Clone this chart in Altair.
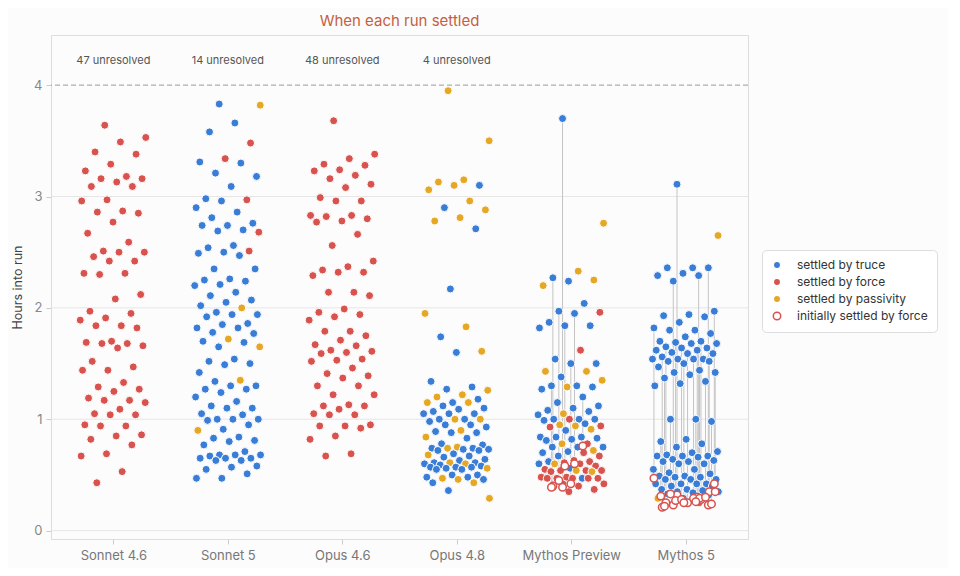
import json
import altair as alt
import pandas as pd

# ---------------- data ----------------
models = ["Sonnet 4.6", "Sonnet 5", "Opus 4.6", "Opus 4.8", "Mythos Preview", "Mythos 5"]
unresolved_models = ["Sonnet 4.6", "Sonnet 5", "Opus 4.6", "Opus 4.8"]
unresolved_counts = [47, 14, 48, 4]

kinds = ["settled by truce", "settled by force", "settled by passivity", "initially settled by force"]

sonnet46_force = [3.64, 3.53, 3.49, 3.40, 3.38, 3.29, 3.23, 3.16, 3.18, 3.16, 3.13, 3.09, 3.09, 2.97, 2.96,
                  2.85, 2.87, 2.86, 2.77, 2.67, 2.59, 2.51, 2.50, 2.50, 2.46, 2.42, 2.42, 2.31, 2.31, 2.30,
                  2.12, 2.08, 1.95, 1.97, 1.91, 1.89, 1.84, 1.82, 1.84, 1.68, 1.64, 1.70, 1.66, 1.68, 1.69,
                  1.52, 1.47, 1.44, 1.44, 1.33, 1.29, 1.27, 1.25, 1.17, 1.19, 1.17, 1.15, 1.09, 1.04, 1.05,
                  1.04, 0.94, 0.94, 0.95, 0.86, 0.85, 0.82, 0.77, 0.69, 0.67, 0.53, 0.43]

sonnet5_truce = [3.83, 3.66, 3.58, 3.31, 3.30, 3.18, 3.21, 3.09, 2.98, 2.96, 2.90, 2.86, 2.81, 2.76, 2.74,
                 2.70, 2.74, 2.69, 2.56, 2.54, 2.49, 2.50, 2.47, 2.35, 2.35, 2.25, 2.26, 2.24, 2.21, 2.20,
                 2.14, 2.11, 2.07, 2.05, 2.02, 1.96, 1.94, 1.94, 1.92, 1.86, 1.85, 1.82, 1.82, 1.78, 1.77,
                 1.70, 1.69, 1.65, 1.54, 1.52, 1.50, 1.49, 1.42, 1.24, 1.34, 1.30, 1.27, 1.30, 1.27, 1.20,
                 1.16, 1.12, 1.10, 1.10, 1.04, 1.05, 1.00, 1.00, 0.99, 1.00, 0.95, 0.91, 0.84, 0.83, 0.80,
                 0.81, 0.77, 0.68, 0.67, 0.68, 0.65, 0.71, 0.68, 0.65, 0.65, 0.63, 0.63, 0.58, 0.57, 0.55,
                 0.51, 0.47, 0.47]
sonnet5_force = [3.48, 3.34, 2.97, 2.68, 2.51]
sonnet5_passivity = [3.82, 2.00, 1.72, 1.65, 1.35, 0.90]

opus46_force = [3.68, 3.38, 3.34, 3.28, 3.29, 3.24, 3.23, 3.19, 3.16, 3.11, 3.08, 2.99, 2.96, 2.96, 2.80,
                2.83, 2.78, 2.83, 2.82, 2.77, 2.66, 2.56, 2.42, 2.32, 2.32, 2.34, 2.37, 2.29, 2.14, 2.11,
                2.14, 1.99, 1.96, 1.94, 1.89, 1.92, 1.79, 1.79, 1.71, 1.75, 1.67, 1.66, 1.62, 1.61, 1.60,
                1.59, 1.53, 1.54, 1.52, 1.46, 1.41, 1.39, 1.37, 1.30, 1.30, 1.22, 1.22, 1.13, 1.12, 1.12,
                1.09, 1.04, 1.05, 1.04, 0.94, 0.95, 0.92, 0.94, 0.85, 0.82, 0.69, 0.67]

opus48_truce = [3.10, 2.90, 2.71, 2.17, 1.74, 1.60, 1.34, 1.29, 1.27, 1.15, 1.18, 1.12, 1.10, 1.07, 1.05,
                1.09, 1.05, 1.05, 1.00, 0.98, 1.00, 0.95, 0.95, 0.93, 0.89, 0.88, 0.88, 0.83, 0.78, 0.74,
                0.73, 0.73, 0.72, 0.72, 0.74, 0.77, 0.69, 0.67, 0.66, 0.64, 0.63, 0.61, 0.61, 0.59, 0.60,
                0.58, 0.56, 0.55, 0.57, 0.57, 0.57, 0.55, 0.50, 0.48, 0.48, 0.50, 0.46, 0.43, 0.36]
opus48_passivity = [3.95, 3.50, 3.15, 3.06, 3.13, 3.10, 2.96, 2.88, 2.81, 2.78, 1.95, 1.83, 1.61, 1.26,
                    1.20, 1.22, 1.15, 1.15, 1.00, 1.00, 0.90, 0.84, 0.75, 0.74, 0.68, 0.61, 0.60, 0.56,
                    0.46, 0.43, 0.47, 0.29]

mythosp_truce = [2.24, 2.04, 1.87, 1.82, 1.84, 1.54, 1.50, 1.38, 1.29, 1.27, 1.30, 1.15, 1.12, 1.08, 1.07,
                 1.10, 1.04, 1.00, 1.00, 1.00, 0.99, 0.96, 0.90, 0.82, 0.84, 0.81, 0.84, 0.83, 0.84, 0.70,
                 0.71, 0.67, 0.75, 0.75, 0.75, 0.56, 0.60, 0.62, 0.47]
mythosp_force = [1.96, 1.62, 0.93, 0.94, 1.00, 0.78, 0.70, 0.67, 0.61, 0.62, 0.55, 0.54, 0.60, 0.58, 0.63,
                 0.54, 0.53, 0.54, 0.47, 0.47, 0.48, 0.47, 0.48, 0.47, 0.47, 0.35, 0.37, 0.40, 0.39, 0.42,
                 0.42]
mythosp_passivity = [2.76, 2.33, 2.25, 2.20, 1.43, 1.43, 1.35, 1.29, 1.05, 0.95, 0.94, 0.91, 0.78, 0.60,
                     0.54, 0.53, 0.72]
# runs first settled by force, later settled another way
mythosp_switch_final = [3.70, 2.27, 1.97, 1.95, 1.84, 1.30, 1.50, 1.20]
mythosp_switch_kind = ["settled by truce"] * 8
mythosp_switch_initial = [0.39, 0.40, 0.45, 0.60, 0.58, 0.39, 0.42, 0.76]

mythos5_truce = [2.36, 2.36, 2.29, 2.31, 1.92, 1.93, 1.94, 1.87, 1.80, 1.80, 1.77, 1.74, 1.70, 1.68, 1.64,
                 1.68, 1.59, 1.62, 1.60, 1.54, 1.54, 1.54, 1.52, 1.47, 1.40, 1.42, 1.32, 1.30, 0.82, 0.78,
                 0.75, 0.70, 0.67, 0.68, 0.67, 0.71, 0.67, 0.66, 0.64, 0.60, 0.63, 0.62, 0.62, 0.60, 0.55,
                 0.55, 0.52, 0.51, 0.48, 0.48, 0.46, 0.46, 0.49, 0.49, 0.42, 0.42, 0.42, 0.46, 0.42, 0.37,
                 0.36, 0.40, 0.35, 0.40, 0.37, 0.34, 0.33, 0.35, 0.29, 0.32]
mythos5_force = [0.25]
mythos5_passivity = [2.65, 0.29]
mythos5_switch_final = [3.11, 2.29, 2.24, 2.36, 1.97, 1.82, 1.70, 1.65, 1.64, 1.59, 1.56, 1.54, 1.52, 1.50,
                        1.44, 1.42, 1.62, 1.69, 1.37, 1.00, 1.00, 0.98, 0.80, 1.34]
mythos5_switch_kind = ["settled by truce"] * 24
mythos5_switch_initial = [0.32, 0.28, 0.23, 0.23, 0.42, 0.47, 0.28, 0.25, 0.28, 0.25, 0.21, 0.29, 0.35,
                          0.25, 0.29, 0.35, 0.30, 0.27, 0.22, 0.26, 0.33, 0.24, 0.31, 0.30]

groups = {
    "Sonnet 4.6": {"truce": [], "force": sonnet46_force, "passivity": [], "switch": ([], [], [])},
    "Sonnet 5": {"truce": sonnet5_truce, "force": sonnet5_force, "passivity": sonnet5_passivity,
                 "switch": ([], [], [])},
    "Opus 4.6": {"truce": [], "force": opus46_force, "passivity": [], "switch": ([], [], [])},
    "Opus 4.8": {"truce": opus48_truce, "force": [], "passivity": opus48_passivity, "switch": ([], [], [])},
    "Mythos Preview": {"truce": mythosp_truce, "force": mythosp_force, "passivity": mythosp_passivity,
                       "switch": (mythosp_switch_final, mythosp_switch_kind, mythosp_switch_initial)},
    "Mythos 5": {"truce": mythos5_truce, "force": mythos5_force, "passivity": mythos5_passivity,
                 "switch": (mythos5_switch_final, mythos5_switch_kind, mythos5_switch_initial)},
}

# ---------------- build tables (deterministic strip jitter) ----------------
points, opens, links = [], [], []
for k, m in enumerate(models):
    g = groups[m]
    items = [(h, "settled by truce", None) for h in g["truce"]]
    items += [(h, "settled by force", None) for h in g["force"]]
    items += [(h, "settled by passivity", None) for h in g["passivity"]]
    fin, kd, ini = g["switch"]
    items += list(zip(fin, kd, ini))
    items.sort(key=lambda t: -t[0])
    for i, (h, kind, init) in enumerate(items):
        off = (((i * 0.6180339887) + 0.37) % 1.0 - 0.5) * 0.58
        x = k + off
        points.append({"model": m, "x": x, "hours": h, "kind": kind})
        if init is not None:
            opens.append({"model": m, "x": x, "hours": init, "kind": "initially settled by force"})
            links.append({"x": x, "y0": init, "y1": h})

pts = pd.DataFrame(points)
opn = pd.DataFrame(opens)
lnk = pd.DataFrame(links)
unres = pd.DataFrame({"x": [models.index(m) for m in unresolved_models],
                      "label": [f"{c} unresolved" for c in unresolved_counts]})
grid_df = pd.DataFrame({"y": [0, 1, 2, 3]})
cap_df = pd.DataFrame({"y": [4]})

BLUE, RED, YELLOW = "#3a7dd6", "#d8524e", "#e6a824"
fill_scale = alt.Scale(domain=kinds, range=[BLUE, RED, YELLOW, "#ffffff"])
stroke_scale = alt.Scale(domain=kinds, range=["#ffffff", "#ffffff", "#ffffff", RED])

xs = alt.Scale(domain=[-0.545, 5.545], nice=False, zero=False)
ys = alt.Scale(domain=[-0.075, 4.45], nice=False, zero=False)
label_expr = json.dumps(models) + "[round(datum.value)]"

x_axis = alt.Axis(values=[0, 1, 2, 3, 4, 5], labelExpr=label_expr, grid=False, domain=False,
                  tickColor="#cccccc", tickSize=5, labelColor="#777777", labelFontSize=13,
                  labelPadding=5, title=None)
y_axis = alt.Axis(values=[0, 1, 2, 3, 4], format="d", grid=False, domain=False, tickColor="#cccccc",
                  tickSize=5, labelColor="#888888", labelFontSize=13, labelPadding=4,
                  title="Hours into run", titleColor="#444444", titleFontSize=12.5,
                  titleFontWeight="normal", titlePadding=9)

grid = alt.Chart(grid_df).mark_rule(color="#e6e6e6", strokeWidth=1).encode(
    y=alt.Y("y:Q", scale=ys, axis=y_axis))

cap = alt.Chart(cap_df).mark_rule(color="#9a9a9a", strokeWidth=1, strokeDash=[5, 3]).encode(
    y=alt.Y("y:Q", scale=ys))

rules = alt.Chart(lnk).mark_rule(color="#c4c4c4", strokeWidth=1).encode(
    x=alt.X("x:Q", scale=xs, axis=x_axis),
    y=alt.Y("y0:Q", scale=ys),
    y2="y1:Q")

legend = alt.Legend(title=None, orient="none", legendX=711, legendY=215, padding=9,
                    strokeColor="#dddddd", fillColor="#ffffff", cornerRadius=4,
                    symbolType="circle", symbolSize=55, symbolStrokeWidth=1.5,
                    labelFontSize=12, labelColor="#333333", rowPadding=3, labelOffset=14)

dots = alt.Chart(pts).mark_circle(size=64, opacity=1, strokeWidth=1).encode(
    x=alt.X("x:Q", scale=xs, axis=x_axis),
    y=alt.Y("hours:Q", scale=ys, axis=y_axis),
    fill=alt.Fill("kind:N", scale=fill_scale, legend=legend),
    stroke=alt.Stroke("kind:N", scale=stroke_scale, legend=legend))

open_dots = alt.Chart(opn).mark_circle(size=56, opacity=1, strokeWidth=1.5).encode(
    x=alt.X("x:Q", scale=xs),
    y=alt.Y("hours:Q", scale=ys),
    fill=alt.Fill("kind:N", scale=fill_scale, legend=legend),
    stroke=alt.Stroke("kind:N", scale=stroke_scale, legend=legend))

texts = alt.Chart(unres).mark_text(fontSize=11, color="#555555").encode(
    x=alt.X("x:Q", scale=xs),
    y=alt.datum(4.22, type="quantitative", scale=ys),
    text="label:N")

chart = alt.layer(grid, cap, rules, dots, open_dots, texts).properties(
    width=697, height=504,
    title=alt.TitleParams("When each run settled", fontSize=15, color="#c5603f", fontWeight="normal",
                          offset=6),
    padding={"left": 43, "top": 27, "right": 200, "bottom": 29},
    autosize=alt.AutoSizeParams(type="none"),
    background="#fcfcfc",
).configure_view(stroke="#dcdcdc", strokeWidth=1.5).configure(font="Inter")

chart.save("out.html", embed_options={"renderer": "svg", "actions": False})
